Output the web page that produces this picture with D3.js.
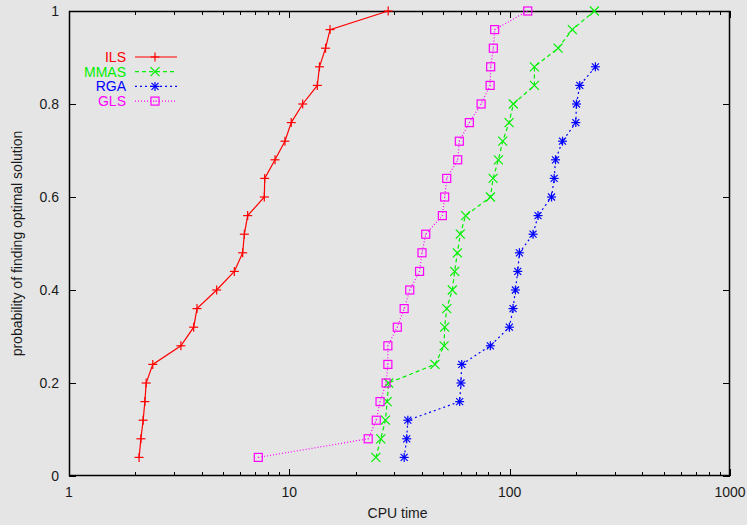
<!DOCTYPE html>
<html>
<head>
<meta charset="utf-8">
<script src="https://cdn.jsdelivr.net/npm/d3@7"></script>
<style>
  html, body { margin: 0; padding: 0; background: #e5e5e5; }
  svg { display: block; font-family: "Liberation Sans", Arial, sans-serif; }
</style>
</head>
<body>
<svg id="chart" width="747" height="525"></svg>
<script>
// Cumulative probability levels (25 runs each)
const probs = [0.04, 0.08, 0.12, 0.16, 0.20, 0.24, 0.28, 0.32, 0.36, 0.40, 0.44, 0.48, 0.52,
               0.56, 0.60, 0.64, 0.68, 0.72, 0.76, 0.80, 0.84, 0.88, 0.92, 0.96, 1.00];

// CPU times at which each probability level is reached
const ilsTimes  = [2.08, 2.12, 2.17, 2.21, 2.24, 2.40, 3.22, 3.68, 3.81, 4.68, 5.63, 6.14, 6.25,
                   6.47, 7.7, 7.73, 8.61, 9.55, 10.2, 11.5, 13.4, 13.7, 14.6, 15.3, 28.1];
const mmasTimes = [24.7, 26.0, 27.3, 27.8, 28.2, 45.8, 50.4, 50.7, 51.8, 54.9, 56.3, 57.9, 59.7,
                   63.1, 81.8, 84.1, 88.9, 93.0, 99.4, 103.9, 129.5, 129.5, 165.8, 192.6, 242.3];
const rgaTimes  = [33.2, 34.1, 34.5, 59.3, 60.1, 60.6, 81.7, 99.7, 103.6, 106.2, 108.8, 110.7, 127.7,
                   134.5, 154.9, 159.2, 161.5, 173.7, 199.6, 201, 208, 245];
const glsTimes  = [7.23, 22.8, 24.8, 25.8, 27.5, 28.0, 28.0, 30.9, 33.2, 35.2, 39.0, 40.0, 41.6,
                   49.5, 50.7, 51.8, 58.1, 59.1, 65.6, 74.2, 81.5, 82.0, 84.3, 85.5, 120.8];

const seriesNames = ["ILS", "MMAS", "RGA", "GLS"];
const xTicks = [1, 10, 100, 1000];
const yTicks = [0, 0.2, 0.4, 0.6, 0.8, 1];

const series = [
  { name: "ILS",  times: ilsTimes,  color: "#ff0000", dash: null,  marker: "plus" },
  { name: "MMAS", times: mmasTimes, color: "#00f000", dash: "4,3", marker: "cross" },
  { name: "RGA",  times: rgaTimes,  color: "#0000ff", dash: "2,3", marker: "star" },
  { name: "GLS",  times: glsTimes,  color: "#ff00ff", dash: "1,2", marker: "square" }
];

const L = 69, R = 730, T = 11, B = 476;
const svg = d3.select("#chart");

const x = d3.scaleLog().domain([1, 1000]).range([L, R]);
const y = d3.scaleLinear().domain([0, 1]).range([B, T]);

// Ticks (inward, mirrored on all sides)
const g = svg.append("g");
const majorLen = 7, minorLen = 4;
const minorX = [];
for (let d = 1; d < 1000; d *= 10) for (let k = 2; k <= 9; k++) minorX.push(d * k);

function tickLine(x1, y1, x2, y2) {
  g.append("line").attr("x1", x1).attr("y1", y1).attr("x2", x2).attr("y2", y2)
    .attr("stroke", "#000").attr("stroke-width", 1);
}
xTicks.forEach(v => {
  const px = Math.round(x(v)) + 0.5;
  tickLine(px, B, px, B - majorLen);
  tickLine(px, T, px, T + majorLen);
});
minorX.forEach(v => {
  const px = Math.round(x(v)) + 0.5;
  tickLine(px, B, px, B - minorLen);
  tickLine(px, T, px, T + minorLen);
});
yTicks.forEach(v => {
  const py = Math.round(y(v)) + 0.5;
  tickLine(L, py, L + majorLen, py);
  tickLine(R, py, R - majorLen, py);
});

// Frame
g.append("rect").attr("x", L + 0.5).attr("y", T + 0.5)
  .attr("width", R - L - 1).attr("height", B - T - 1)
  .attr("fill", "none").attr("stroke", "#000").attr("stroke-width", 1.5);

// Tick labels
svg.append("g").selectAll("text").data(yTicks).join("text")
  .attr("x", L - 10).attr("y", d => y(d) + 5)
  .attr("text-anchor", "end").attr("font-size", 14).attr("fill", "#1a1a1a")
  .text(d => d3.format("~g")(d));
svg.append("g").selectAll("text").data(xTicks).join("text")
  .attr("x", d => x(d)).attr("y", B + 21)
  .attr("text-anchor", "middle").attr("font-size", 14).attr("fill", "#1a1a1a")
  .text(d => d);

// Axis titles
svg.append("text").attr("x", (L + R) / 2 - 2).attr("y", 518)
  .attr("text-anchor", "middle").attr("font-size", 14).attr("fill", "#1a1a1a").text("CPU time");
svg.append("text")
  .attr("transform", `translate(22,${(T + B) / 2}) rotate(-90)`)
  .attr("text-anchor", "middle").attr("font-size", 14).attr("fill", "#1a1a1a")
  .text("probability of finding optimal solution");

// Marker drawing
function drawMarker(sel, type, color) {
  const s = 4.5;
  if (type === "plus" || type === "star") {
    sel.append("line").attr("x1", -s).attr("x2", s).attr("y1", 0).attr("y2", 0);
    sel.append("line").attr("x1", 0).attr("x2", 0).attr("y1", -s).attr("y2", s);
  }
  if (type === "cross" || type === "star") {
    const c = type === "star" ? 3.5 : s;
    sel.append("line").attr("x1", -c).attr("x2", c).attr("y1", -c).attr("y2", c);
    sel.append("line").attr("x1", -c).attr("x2", c).attr("y1", c).attr("y2", -c);
  }
  if (type === "square") {
    sel.append("rect").attr("x", -4).attr("y", -4).attr("width", 8).attr("height", 8)
      .attr("fill", "none");
    sel.append("rect").attr("x", -0.5).attr("y", -0.5).attr("width", 1).attr("height", 1)
      .attr("fill", color).attr("stroke", "none");
  }
  sel.selectAll("line, rect").filter(function () { return !this.getAttribute("stroke"); })
    .attr("stroke", color).attr("stroke-width", 1.2);
}

const line = d3.line().x(d => x(d[0])).y(d => y(d[1]));
const plot = svg.append("g");

series.forEach(s => {
  const pts = s.times.map((t, i) => [t, probs[i]]);
  plot.append("path").datum(pts).attr("d", line)
    .attr("fill", "none").attr("stroke", s.color).attr("stroke-width", 1.2)
    .attr("stroke-dasharray", s.dash);
  pts.forEach(p => {
    const m = plot.append("g").attr("transform", `translate(${x(p[0])},${y(p[1])})`);
    drawMarker(m, s.marker, s.color);
  });
});

// Legend
const legend = svg.append("g");
seriesNames.forEach((name, i) => {
  const s = series.find(d => d.name === name);
  const ly = 57 + i * 14.7;
  legend.append("text").attr("x", 126).attr("y", ly + 5)
    .attr("text-anchor", "end").attr("font-size", 14).attr("fill", s.color).text(name);
  legend.append("line").attr("x1", 135).attr("x2", 177).attr("y1", ly).attr("y2", ly)
    .attr("stroke", s.color).attr("stroke-width", 1.2).attr("stroke-dasharray", s.dash);
  const m = legend.append("g").attr("transform", `translate(155,${ly})`);
  drawMarker(m, s.marker, s.color);
});
</script>
</body>
</html>
